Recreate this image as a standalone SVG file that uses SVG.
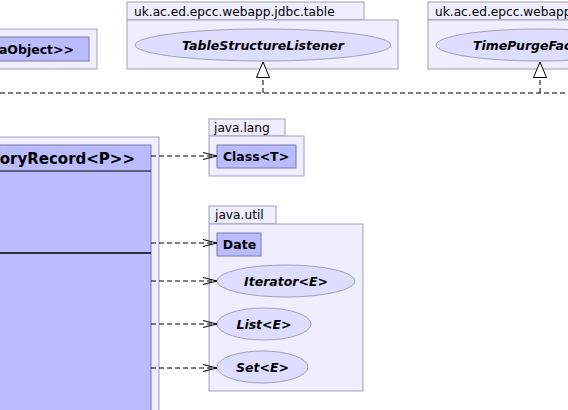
<svg xmlns="http://www.w3.org/2000/svg" width="568" height="410" viewBox="0 0 568 410">
<style>
.pkg{fill:#EEEEFF;stroke:#A0A0B8;stroke-width:1}
.cls{fill:#BBBBFF;stroke:#7878A8;stroke-width:1}
.ell{fill:#DDDDFF;stroke:#A0A0B8;stroke-width:1}
.ptxt{font-family:"DejaVu Sans",sans-serif;font-size:12.2px;fill:#000}
.ctxt{font-family:"DejaVu Sans",sans-serif;font-size:12.5px;font-weight:bold;fill:#000}
.itxt{font-family:"DejaVu Sans",sans-serif;font-size:12.5px;font-weight:bold;font-style:italic;fill:#000}
.dep{fill:none;stroke:#000;stroke-width:1;stroke-dasharray:5,3}
</style>
<defs>
<marker id="open" markerUnits="userSpaceOnUse" viewBox="0 0 14 8" refX="14" refY="4" markerWidth="14" markerHeight="8" orient="auto">
<path d="M0,0.5 L14,4 L0,7.5" fill="none" stroke="#000" stroke-width="1"/>
</marker>
<marker id="tri" markerUnits="userSpaceOnUse" viewBox="0 0 17 14" refX="16" refY="7" markerWidth="17" markerHeight="14" orient="auto">
<path d="M0.5,0.5 L16,7 L0.5,13.5 Z" fill="#fff" stroke="#000" stroke-width="1"/>
</marker>
</defs>
<rect width="568" height="410" fill="#fff"/>

<g id="pkg-dataobject">
<rect class="pkg" x="-20" y="29" width="117" height="40"/>
<g id="node-dataobject">
<rect class="cls" x="-20" y="37" width="109" height="24"/>
<text class="ctxt" x="74" y="54" text-anchor="end">aObject&gt;&gt;</text>
</g>
</g>

<g id="pkg-jdbc-table">
<rect class="pkg" x="127" y="2" width="237" height="18"/>
<text class="ptxt" x="134" y="16">uk.ac.ed.epcc.webapp.jdbc.table</text>
<rect class="pkg" x="127" y="20" width="271" height="49"/>
<g id="node-tablestructurelistener">
<ellipse class="ell" cx="263" cy="45" rx="128" ry="16"/>
<text class="itxt" x="263" y="49.5" text-anchor="middle">TableStructureListener</text>
</g>
</g>

<g id="pkg-webapp">
<rect class="pkg" x="428" y="2" width="160" height="18"/>
<text class="ptxt" x="435" y="16">uk.ac.ed.epcc.webapp</text>
<rect class="pkg" x="428" y="20" width="160" height="49"/>
<g id="node-timepurgefactory">
<ellipse class="ell" cx="540" cy="45" rx="104" ry="16"/>
<text class="itxt" x="473" y="49.5">TimePurgeFactory</text>
</g>
</g>

<g id="pkg-main">
<rect class="pkg" x="-20" y="137" width="179" height="290"/>
<g id="node-historyrecord">
<rect class="cls" x="-20" y="145" width="171" height="280"/>
<text class="ctxt" style="font-size:15px" x="135" y="164" text-anchor="end">oryRecord&lt;P&gt;&gt;</text>
<line x1="-20" y1="171" x2="151" y2="171" stroke="#000" stroke-width="1"/>
<line x1="-20" y1="253" x2="151" y2="253" stroke="#000" stroke-width="1.6"/>
</g>
</g>

<g id="pkg-java-lang">
<rect class="pkg" x="209" y="119" width="76" height="17"/>
<text class="ptxt" x="214" y="132">java.lang</text>
<rect class="pkg" x="209" y="136" width="95" height="40"/>
<g id="node-class">
<rect class="cls" x="217" y="145" width="79" height="23"/>
<text class="ctxt" x="256" y="161" text-anchor="middle">Class&lt;T&gt;</text>
</g>
</g>

<g id="pkg-java-util">
<rect class="pkg" x="209" y="206" width="67" height="18"/>
<text class="ptxt" x="215" y="219">java.util</text>
<rect class="pkg" x="209" y="224" width="154" height="167"/>
<g id="node-date">
<rect class="cls" x="217" y="233" width="44" height="23"/>
<text class="ctxt" x="239.5" y="249" text-anchor="middle">Date</text>
</g>
<g id="node-iterator">
<ellipse class="ell" cx="286" cy="281" rx="69" ry="16"/>
<text class="itxt" x="286" y="285.5" text-anchor="middle">Iterator&lt;E&gt;</text>
</g>
<g id="node-list">
<ellipse class="ell" cx="264" cy="324" rx="47" ry="16"/>
<text class="itxt" x="264" y="328.5" text-anchor="middle">List&lt;E&gt;</text>
</g>
<g id="node-set">
<ellipse class="ell" cx="262.5" cy="367" rx="45.5" ry="16"/>
<text class="itxt" x="262.5" y="371.5" text-anchor="middle">Set&lt;E&gt;</text>
</g>
</g>

<g id="connectors">
<line class="dep" x1="0" y1="93" x2="568" y2="93"/>
<line class="dep" x1="263" y1="93" x2="263" y2="62" marker-end="url(#tri)"/>
<line class="dep" x1="540" y1="93" x2="540" y2="62" marker-end="url(#tri)"/>
<line class="dep" x1="151" y1="156" x2="217" y2="156" marker-end="url(#open)"/>
<line class="dep" x1="151" y1="243" x2="217" y2="243" marker-end="url(#open)"/>
<line class="dep" x1="151" y1="281" x2="217" y2="281" marker-end="url(#open)"/>
<line class="dep" x1="151" y1="324" x2="217" y2="324" marker-end="url(#open)"/>
<line class="dep" x1="151" y1="368" x2="217" y2="368" marker-end="url(#open)"/>
</g>
</svg>
